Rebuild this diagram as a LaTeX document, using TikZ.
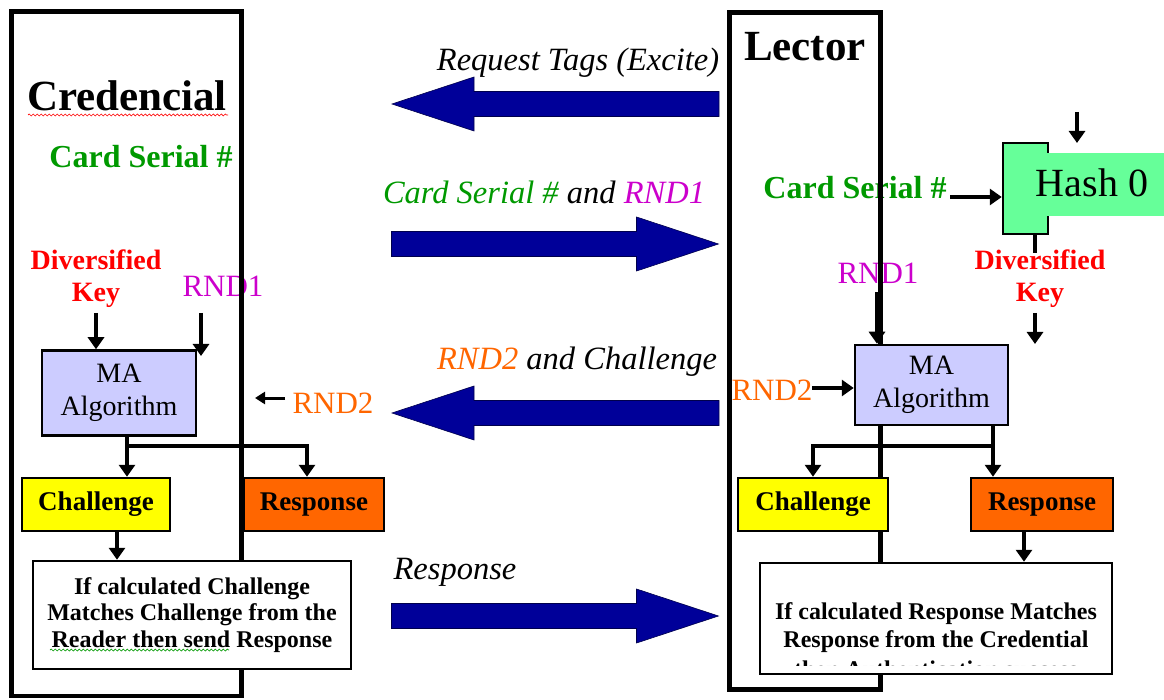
\documentclass[tikz,border=0pt]{standalone}
\usepackage{fontspec}
\setmainfont{Liberation Serif}
\usetikzlibrary{arrows.meta,decorations.pathmorphing}
\definecolor{cgreen}{RGB}{0,153,0}
\definecolor{cred}{RGB}{255,0,0}
\definecolor{cmag}{RGB}{204,0,204}
\definecolor{corange}{RGB}{255,102,0}
\definecolor{clav}{RGB}{204,204,255}
\definecolor{cyellow}{RGB}{255,255,0}
\definecolor{chash}{RGB}{102,255,153}
\definecolor{cnavy}{RGB}{0,0,153}
\begin{document}
\begin{tikzpicture}[x=1pt,y=-1pt,
 txt/.style={inner sep=0pt, align=center},
 titletxt/.style={txt, font=\fontsize{43}{47}\selectfont\bfseries},
 serial/.style={txt, text=cgreen, font=\fontsize{32}{36}\selectfont\bfseries},
 divkey/.style={txt, text=cred, font=\fontsize{28}{32}\selectfont\bfseries},
 rndtxt/.style={txt, font=\fontsize{31}{34}\selectfont},
 flowtxt/.style={txt, font=\fontsize{32.5}{35}\selectfont\itshape},
 mabox/.style={draw, line width=2.5pt, fill=clav, inner sep=0pt, align=center, font=\fontsize{28}{33}\selectfont},
 keybox/.style={draw, line width=2.5pt, inner sep=0pt, minimum height=53pt, font=\fontsize{27}{30}\selectfont\bfseries},
 notebox/.style={draw, line width=2.5pt, fill=white, inner sep=0pt, align=center, font=\fontsize{24}{26.5}\selectfont\bfseries},
 notetxt/.style={txt, font=\fontsize{24}{28.5}\selectfont\bfseries},
 frame/.style={draw, line width=4.5pt},
 conn/.style={line width=4pt, -{Triangle[width=16pt,length=12pt]}},
 connsmall/.style={line width=3pt, -{Triangle[width=12pt,length=10pt]}},
 plainline/.style={line width=4pt},
 wavy/.style={decorate, decoration={snake, amplitude=1pt, segment length=4pt}, line width=0.7pt},
 pics/flowR/.style={code={\path[fill=cnavy, draw=black!50!cnavy, line width=0.6pt]
   (-163.5,-12.5) -- (81.5,-12.5) -- (81.5,-27) -- (163.5,0) -- (81.5,27) -- (81.5,12.5) -- (-163.5,12.5) -- cycle;}},
 pics/flowL/.style={code={\path[fill=cnavy, draw=black!50!cnavy, line width=0.6pt]
   (163.5,-12.5) -- (-81.5,-12.5) -- (-81.5,-27) -- (-163.5,0) -- (-81.5,27) -- (-81.5,12.5) -- (163.5,12.5) -- cycle;}}
]
\useasboundingbox (0,0) rectangle (1164,700);
\fill[white] (0,0) rectangle (1164,700);

% ---------- labels (drawn below the frames) ----------
\node[titletxt] (credlbl) at (127,96) {Credencial};
\draw[wavy, cred] (28,115) -- (228,115);
\node[serial] (cardL) at (141,157) {Card Serial \#};
\node[divkey] (divL) at (96,279) {Diversified\\Key};
\node[rndtxt, text=cmag] (rnd1L) at (223,286) {RND1};
\node[rndtxt, text=corange] (rnd2L) at (333,403) {RND2};

\node[titletxt] (leclbl) at (805,47) {Lector};
\node[serial] (cardR) at (855,188) {Card Serial \#};
\node[divkey] (divR) at (1040,279) {Diversified\\Key};
\node[rndtxt, text=cmag] (rnd1R) at (878,273) {RND1};
\node[rndtxt, text=corange] (rnd2R) at (772,390) {RND2};

% ---------- frames ----------
\draw[frame] (11.5,11.5) rectangle (241.5,696);
\draw[frame] (729.5,12.5) rectangle (880.5,689.5);

% ---------- central flow arrows ----------
\node[flowtxt] (reqtxt) at (578,63) {Request Tags (Excite)};
\pic at (555.5,104) {flowL};
\node[flowtxt] (csrtxt) at (544,192) {\textcolor{cgreen}{Card Serial \#} and \textcolor{cmag}{RND1}};
\pic at (555,244) {flowR};
\node[flowtxt] (r2ctxt) at (577,362) {\textcolor{corange}{RND2} and Challenge};
\pic at (555.5,413) {flowL};
\node[flowtxt] (resptxt) at (455,572) {Response};
\pic at (555,616) {flowR};

% ---------- left boxes ----------
\node[mabox, minimum width=154pt, minimum height=85pt] (maL) at (119,393) {MA\\Algorithm};
\node[keybox, fill=cyellow, minimum width=148pt] (chL) at (96,504.5) {Challenge};
\node[keybox, fill=corange, minimum width=140pt] (rsL) at (314,504.5) {Response};
\node[notebox, minimum width=318pt, minimum height=108pt] (textL) at (192,615)
  {If calculated Challenge\\Matches Challenge from the\\Reader then send Response};
\draw[wavy, cgreen] (50,650) -- (229,650);

% ---------- right boxes ----------
\node[draw, line width=2.5pt, fill=chash, minimum width=45pt, minimum height=91pt, inner sep=0pt] (hashbox) at (1025.5,188.5) {};
\fill[chash] (1046.3,153) rectangle (1164,216);
\node[txt, font=\fontsize{40}{44}\selectfont] (hashtxt) at (1092,183) {Hash 0};

\node[mabox, minimum width=153pt, minimum height=80pt] (maR) at (931.5,385) {MA\\Algorithm};
\node[keybox, fill=cyellow, minimum width=150pt] (chR) at (813,504.5) {Challenge};
\node[keybox, fill=corange, minimum width=142pt] (rsR) at (1042,504.5) {Response};
\node[notebox, minimum width=352pt, minimum height=111pt] (textR) at (936,618.5) {};
\node[notetxt] (textR1) at (936,627.5) {If calculated Response Matches\\Response from the Credential};
\begin{scope}
  \clip (762,565) rectangle (1110,665);
  \node[notetxt] (textR2) at (936,669) {then Authentication success};
\end{scope}

% ---------- left connectors ----------
\coordinate (dkLa) at (96,313);
\draw[conn] (dkLa) -- (dkLa |- maL.north);
\coordinate (r1La) at (201,313);
\coordinate (r1Lb) at (201,356);
\draw[conn] (r1La) -- (r1Lb);
\coordinate (jL) at (127,446);
\coordinate (jL2) at (307,446);
\draw[conn] (jL |- maL.south) -- (jL) -- (jL2) -- (jL2 |- rsL.north);
\draw[conn] (jL) -- (jL |- chL.north);
\coordinate (cL) at (117,531);
\draw[conn] (cL |- chL.south) -- (cL |- textL.north);
\coordinate (r2La) at (285,398);
\coordinate (r2Lb) at (255,398);
\draw[connsmall] (r2La) -- (r2Lb);

% ---------- right connectors ----------
\coordinate (csR) at (950,197);
\draw[conn] (csR) -- (csR -| hashbox.west);
\coordinate (hta) at (1077,112);
\coordinate (htb) at (1077,143);
\draw[conn] (hta) -- (htb);
\coordinate (hk) at (1035,253);
\draw[plainline] (hk |- hashbox.south) -- (hk);
\coordinate (dka) at (1035,313);
\coordinate (dkb) at (1035,344);
\draw[conn] (dka) -- (dkb);
\coordinate (r1Ra) at (877,292);
\draw[conn] (r1Ra) -- (r1Ra |- maR.north);
\coordinate (r2Ra) at (812,388);
\draw[conn] (r2Ra) -- (r2Ra -| maR.west);
\coordinate (jR) at (993,446);
\coordinate (jR2) at (813,446);
\draw[conn] (jR |- maR.south) -- (jR) -- (jR |- rsR.north);
\draw[conn] (jR) -- (jR2) -- (jR2 |- chR.north);
\coordinate (rR) at (1024,531);
\draw[conn] (rR |- rsR.south) -- (rR |- textR.north);
\end{tikzpicture}
\end{document}
